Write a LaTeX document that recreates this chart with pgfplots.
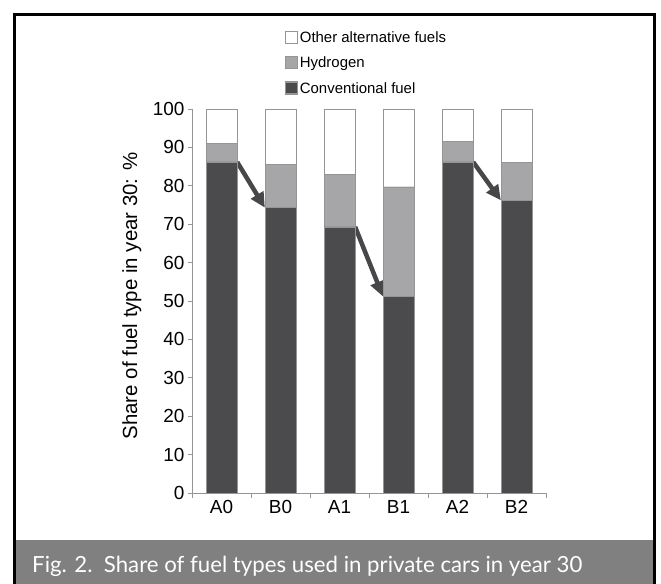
\documentclass[border=0pt]{standalone}
\usepackage{fontspec}
\setmainfont{Liberation Sans}
\newfontfamily\capfont{Lato}
\usepackage{pgfplots}
\pgfplotsset{compat=1.18}
\usetikzlibrary{arrows.meta}
\definecolor{conv}{HTML}{4B4B4D}
\definecolor{hydro}{HTML}{A6A6A8}
\definecolor{edge}{HTML}{959595}
\definecolor{capgray}{HTML}{808080}
\definecolor{arrowc}{HTML}{474749}

\begin{document}
\begin{tikzpicture}[x=1bp,y=1bp]
\path[use as bounding box] (0,0) rectangle (661,584);
\fill[capgray] (14,0) rectangle (655,44);
\draw[line width=2.4bp] (14.5,0) -- (14.5,569.5) -- (654.5,569.5) -- (654.5,0);
\node[anchor=base west, text=white, inner sep=0,
      font=\capfont\fontsize{22.3}{26}\selectfont] at (32,11)
  {Fig. 2.\ \ Share of fuel types used in private cars in year 30};

\begin{axis}[
  at={(192bp,91bp)}, anchor=south west,
  scale only axis, width=354bp, height=384bp,
  xmin=-0.5, xmax=5.5, ymin=0, ymax=100,
  ybar stacked, bar width=31bp,
  axis x line=bottom, axis y line=left,
  axis line style={edge, -, line width=0.8bp},
  xtick={0,...,5}, xticklabels={A0,B0,A1,B1,A2,B2},
  minor xtick={-0.5,0.5,...,5.5},
  ytick={0,10,...,100},
  tick align=outside,
  major tick length=4bp, minor tick length=5bp,
  tick style={edge, line width=0.8bp},
  major x tick style={draw=none},
  ticklabel style={font=\fontsize{19}{21}\selectfont},
  /pgf/number format/assume math mode=true,
  ylabel={Share of fuel type in year 30: \%},
  every axis y label/.append style={at={(axis description cs:-0.170,0.513)}, anchor=center, font=\fontsize{20.5}{24}\selectfont},
  legend style={at={(axis description cs:0.2627,1.204)}, anchor=north west,
    draw=none, fill=none, font=\fontsize{15}{17}\selectfont,
    row sep=12bp, inner sep=0pt, nodes={inner xsep=1.5bp, inner ysep=0pt},
    cells={anchor=west}},
  legend image code/.code={\draw[#1, draw=edge, line width=1.2bp] (0bp,-5.5bp) rectangle (12bp,6.5bp);},
  reverse legend,
]
\addplot[fill=conv, draw=edge] coordinates {(0,86.2) (1,74.3) (2,69.3) (3,51.2) (4,86.2) (5,76.2)};
\addplot[fill=hydro, draw=edge] coordinates {(0,4.8) (1,11.2) (2,13.7) (3,28.55) (4,5.3) (5,9.9)};
\addplot[fill=white, draw=edge] coordinates {(0,9.0) (1,14.5) (2,17.0) (3,20.25) (4,8.5) (5,13.9)};
\legend{Conventional fuel, Hydrogen, Other alternative fuels}
\draw[arrowc, line width=4.5bp, -{Triangle[length=15bp,width=14bp]}] (axis cs:0.265,86.2) -- (axis cs:0.735,74.3);
\draw[arrowc, line width=4.5bp, -{Triangle[length=15bp,width=14bp]}] (axis cs:2.265,69.3) -- (axis cs:2.735,51.2);
\draw[arrowc, line width=4.5bp, -{Triangle[length=15bp,width=14bp]}] (axis cs:4.265,86.2) -- (axis cs:4.735,76.2);
\end{axis}
\end{tikzpicture}
\end{document}
